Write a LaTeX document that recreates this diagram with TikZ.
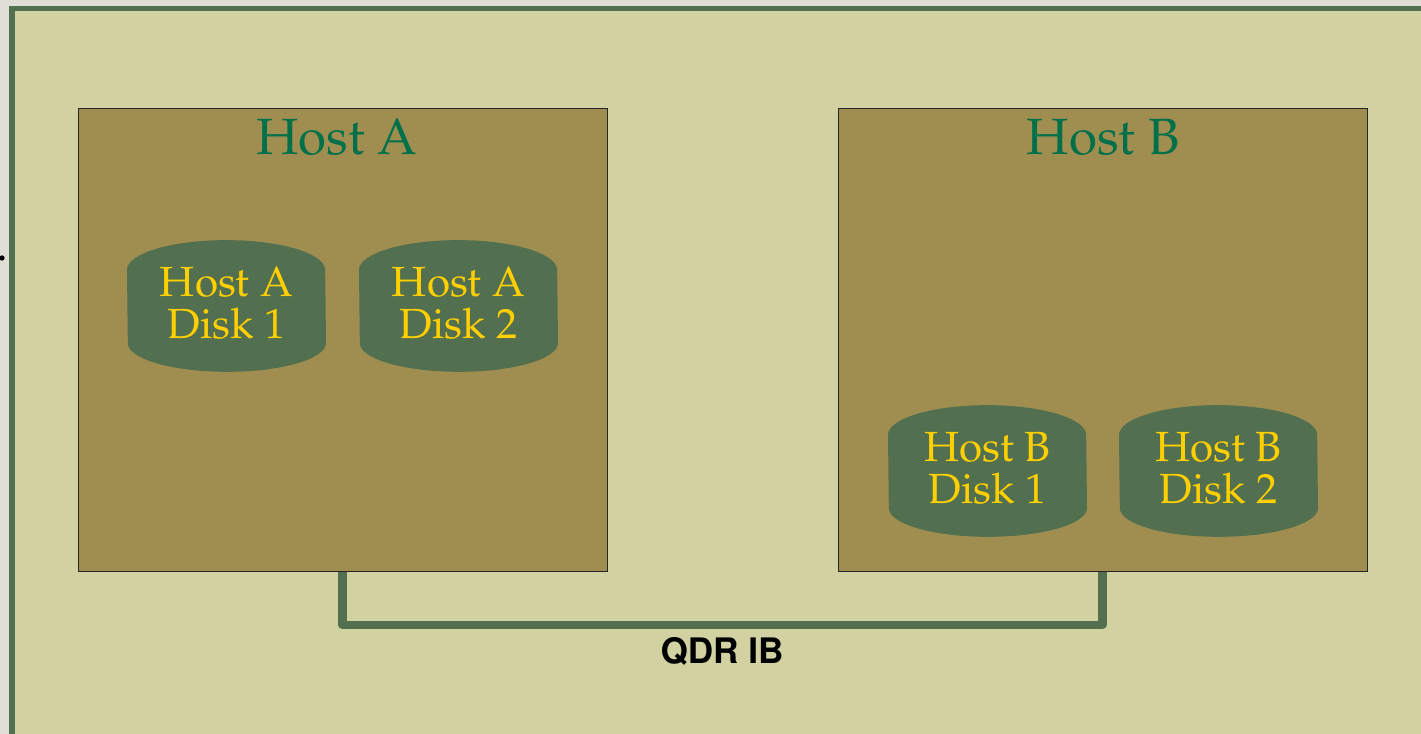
\documentclass[tikz,border=0pt]{standalone}
\usepackage[T1]{fontenc}
\usepackage{mathpazo}
\usetikzlibrary{positioning}

\definecolor{outergray}{HTML}{E1DFD5}
\definecolor{panel}{HTML}{D2D1A2}
\definecolor{framegreen}{HTML}{52704F}
\definecolor{hostfill}{HTML}{A08E51}
\definecolor{titlegreen}{HTML}{00704B}
\definecolor{diskgold}{HTML}{FFCF00}

\tikzset{
    hostbox/.style={draw=black!85, line width=0.5pt, fill=hostfill, inner sep=0pt,
        minimum width=529*0.02cm, minimum height=463*0.02cm},
    hosttitle/.style={text=titlegreen, inner sep=0pt, anchor=base,
        font=\fontsize{29}{29}\selectfont},
    disktext/.style={text=diskgold, inner sep=0pt, align=center,
        font=\fontsize{24}{24}\selectfont},
    ib/.style={framegreen, line width=4.6pt, line join=round}
}

\begin{document}
\begin{tikzpicture}[x=0.02cm, y=-0.02cm]
            \useasboundingbox (0,0) rectangle (1421,734);
            \fill[outergray] (0,0) rectangle (1421,734);
            \draw[framegreen, line width=3.4pt, fill=panel] (12,8.5) rectangle (1440,752);
            \fill[black] (2,258) circle (1.5pt);

            % link between the hosts
            \coordinate (bus) at (722,625);
            \draw[ib] (342.5,560) |- (bus) -| (1102.5,560);

            \node[hostbox] (hostA) at (342.5,339.5) {};
            \node[hostbox] (hostB) at (1102.5,339.5) {};

            \node[hosttitle] (titleA) at (337,154) {Host A};
            \node[hosttitle] (titleB) at (1103,154) {Host B};

            % disks
            \fill[framegreen] (127,270) arc[start angle=180, end angle=0, x radius=56.4pt, y radius=17pt]
                -- (326,343) arc[start angle=0, end angle=-180, x radius=56.4pt, y radius=16.4pt] -- cycle;
            \fill[framegreen] (359,270) arc[start angle=180, end angle=0, x radius=56.4pt, y radius=17pt]
                -- (558,343) arc[start angle=0, end angle=-180, x radius=56.4pt, y radius=16.4pt] -- cycle;
            \fill[framegreen] (888,435) arc[start angle=180, end angle=0, x radius=56.4pt, y radius=17pt]
                -- (1087,508) arc[start angle=0, end angle=-180, x radius=56.4pt, y radius=16.4pt] -- cycle;
            \fill[framegreen] (1119,435) arc[start angle=180, end angle=0, x radius=56.4pt, y radius=17pt]
                -- (1318,508) arc[start angle=0, end angle=-180, x radius=56.4pt, y radius=16.4pt] -- cycle;

            \node[disktext] (diskA1) at (226.5,303) {Host A\\Disk 1};
            \node[disktext] (diskA2) at (458.5,303) {Host A\\Disk 2};
            \node[disktext] (diskB1) at (987.5,468) {Host B\\Disk 1};
            \node[disktext] (diskB2) at (1218.5,468) {Host B\\Disk 2};

            \node[inner sep=0pt, font=\fontfamily{phv}\bfseries\fontsize{20}{20}\selectfont]
                (ibtext) at (722,652) {QDR IB};
\end{tikzpicture}
\end{document}
